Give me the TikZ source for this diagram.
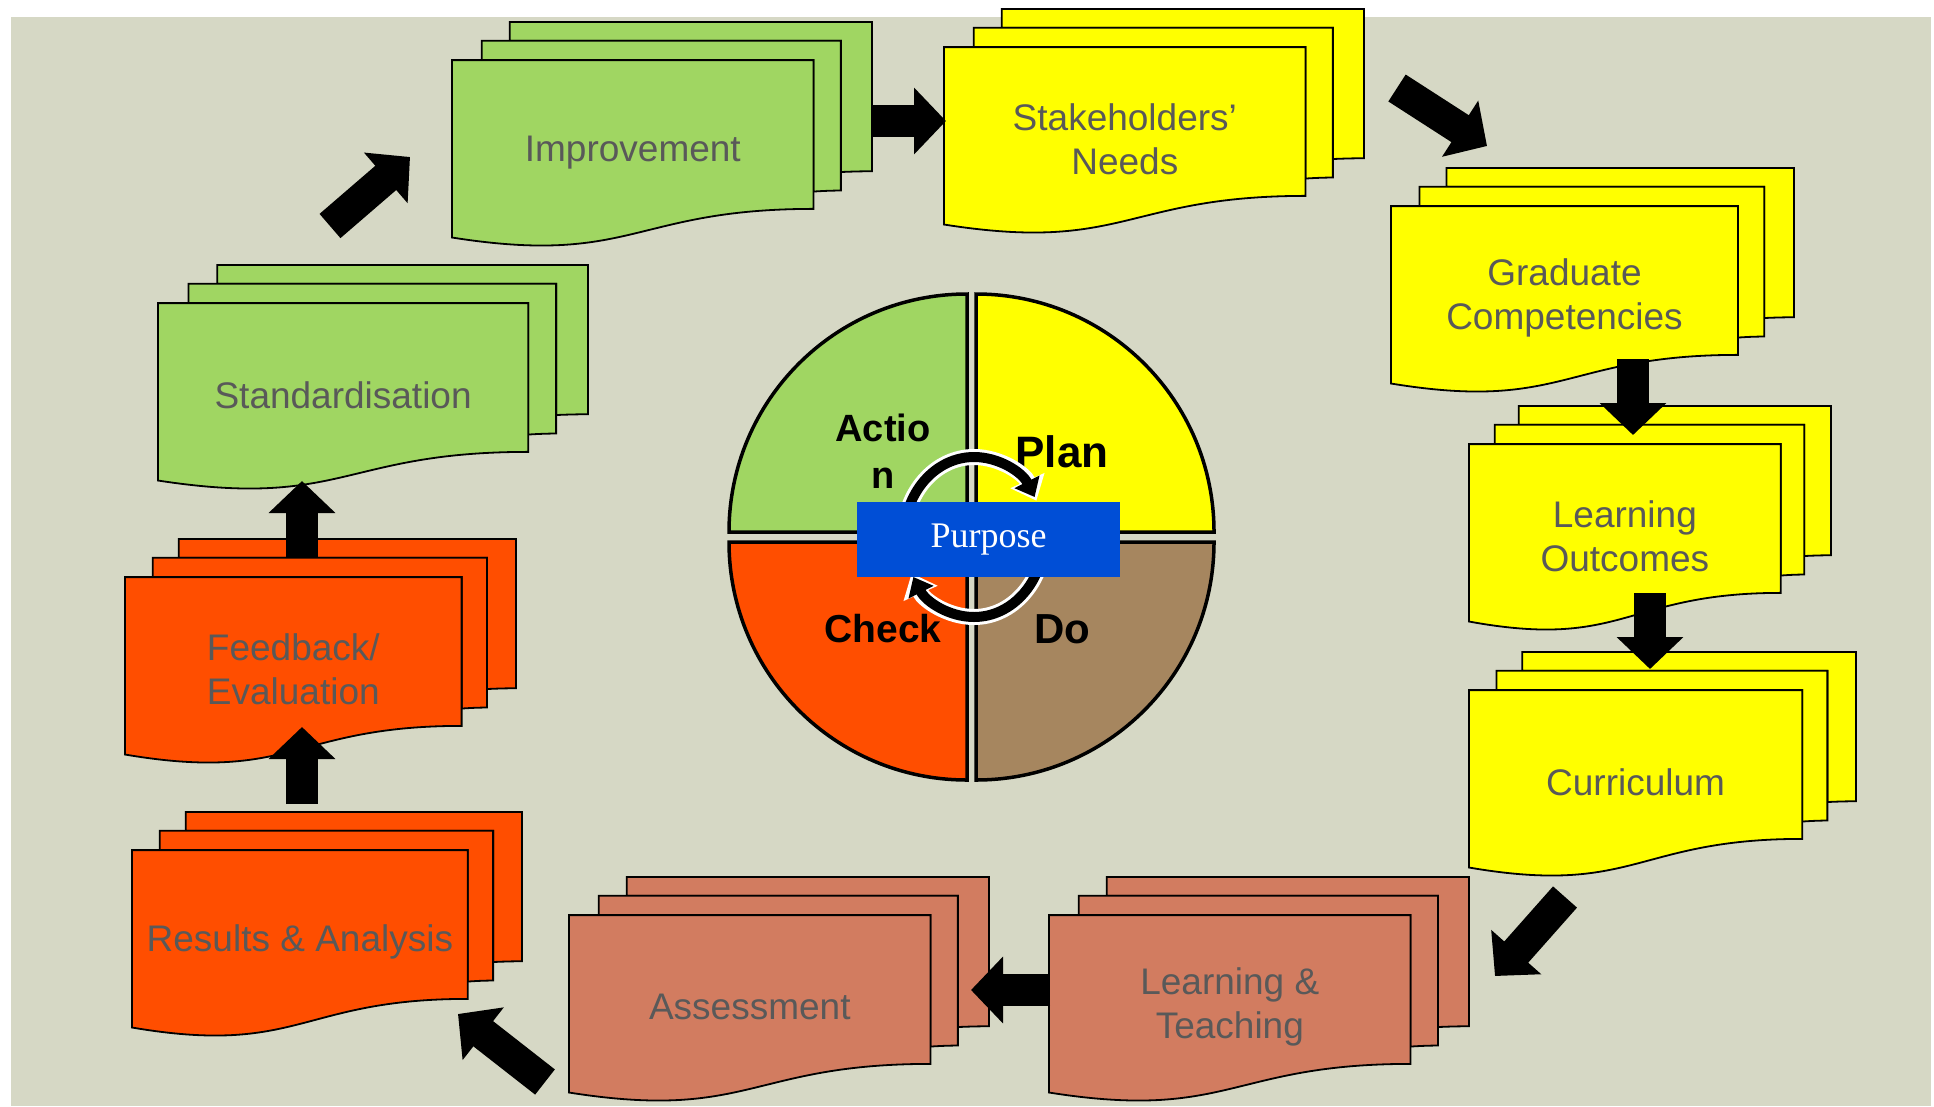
\documentclass[tikz,border=0pt]{standalone}
\usepackage{fontspec}
\setmainfont{Liberation Sans}
\newfontfamily\purposefont{Liberation Serif}
\usetikzlibrary{arrows.meta}
\definecolor{bgcol}{RGB}{214,216,197}
\definecolor{docgreen}{RGB}{160,214,98}
\definecolor{docyellow}{RGB}{255,255,0}
\definecolor{docred}{RGB}{255,78,0}
\definecolor{docsalmon}{RGB}{210,124,96}
\definecolor{dobrown}{RGB}{166,134,95}
\definecolor{purposeblue}{RGB}{0,78,214}
\definecolor{doctext}{RGB}{89,89,89}
\tikzset{
    docline/.style={draw=black,line width=1.8pt,line join=miter},
    doctxt/.style={text=doctext,align=center,inner sep=0pt,font=\fontsize{37}{44}\selectfont},
    blockarrow/.style={line width=32pt,-{Triangle[length=32pt,width=65pt]}},
    quarter/.style={draw=black,line width=3.5pt},
    qlabel/.style={align=center,inner sep=0pt},
    purposebox/.style={fill=purposeblue,text=white,minimum width=263pt,minimum height=75pt,
        inner sep=0pt,font=\purposefont\fontsize{36}{40}\selectfont}
}
% three stacked pages, text on the front one
\newcommand{\multidoc}[7]{%
    \begin{scope}[shift={(#2,#3)},x=#4pt,y=-#5pt]
        \draw[docline,fill=#6] (0.1376,0.0840) -- (0.1376,0) -- (1,0) -- (1,0.6663)
            .. controls (0.9630,0.6663) and (0.9259,0.6698) .. (0.9259,0.6698) -- (0.9259,0.0840) -- cycle;
        \draw[docline,fill=#6] (0.0709,0.1701) -- (0.0709,0.0840) -- (0.9259,0.0840) -- (0.9259,0.7524)
            .. controls (0.8934,0.7524) and (0.8609,0.7570) .. (0.8609,0.7570) -- (0.8609,0.1701) -- cycle;
        \draw[docline,fill=#6] (0,0.9621) .. controls (0.4305,1.0899) and (0.4305,0.8343) .. (0.8609,0.8343)
            -- (0.8609,0.1701) -- (0,0.1701) -- cycle;
        \node[doctxt] (#1) at (0.4305,0.582) {#7};
    \end{scope}}

\begin{document}
\begin{tikzpicture}[x=1pt,y=-1pt]
    \useasboundingbox (0,0) rectangle (1934,1106);
    \fill[white] (0,0) rectangle (1934,1106);
    \fill[bgcol] (11,17) rectangle (1931,1106);

    % documents
    \multidoc{improve}{452}{22}{420}{224}{docgreen}{Improvement}
    \multidoc{needs}{944}{9}{420}{224}{docyellow}{Stakeholders’\\Needs}
    \multidoc{gradcomp}{1391}{168}{403}{224}{docyellow}{Graduate\\Competencies}
    \multidoc{outcomes}{1469}{406}{362}{224}{docyellow}{Learning\\Outcomes}
    \multidoc{curric}{1469}{652}{387}{224}{docyellow}{Curriculum}
    \multidoc{teaching}{1049}{877}{420}{224}{docsalmon}{Learning \&\\Teaching}
    \multidoc{assess}{569}{877}{420}{224}{docsalmon}{Assessment}
    \multidoc{results}{132}{812}{390}{224}{docred}{Results \& Analysis}
    \multidoc{feedback}{125}{539}{391}{224}{docred}{Feedback/\\Evaluation}
    \multidoc{standard}{158}{265}{430}{224}{docgreen}{Standardisation}

    % block arrows
    \coordinate (a1) at (330,226);   \coordinate (b1) at (410,157);
    \coordinate (a2) at (872,121);   \coordinate (b2) at (946,121);
    \coordinate (a3) at (1397,88);   \coordinate (b3) at (1487,146);
    \coordinate (a4) at (1633,359);  \coordinate (b4) at (1633,435);
    \coordinate (a5) at (1650,593);  \coordinate (b5) at (1650,669);
    \coordinate (a6) at (1565,897);  \coordinate (b6) at (1495,976);
    \coordinate (a7) at (1050,990);  \coordinate (b7) at (971,990);
    \coordinate (a8) at (545,1082);  \coordinate (b8) at (458,1014);
    \coordinate (a9) at (302,804);   \coordinate (b9) at (302,727);
    \coordinate (a10) at (302,557);  \coordinate (b10) at (302,481);
    \path[blockarrow]
        (a1) edge (b1)
        (a2) edge (b2)
        (a3) edge (b3)
        (a4) edge (b4)
        (a5) edge (b5)
        (a6) edge (b6)
        (a7) edge (b7)
        (a8) edge (b8)
        (a9) edge (b9)
        (a10) edge (b10);

    % PDCA wheel
    \filldraw[quarter,fill=docgreen] (967,532) -- ++(-238,0) arc[start angle=180,end angle=90,radius=238pt] -- cycle;
    \filldraw[quarter,fill=docyellow] (976,532) -- ++(0,-238) arc[start angle=90,end angle=0,radius=238pt] -- cycle;
    \filldraw[quarter,fill=docred] (967,542) -- ++(-238,0) arc[start angle=180,end angle=270,radius=238pt] -- cycle;
    \filldraw[quarter,fill=dobrown] (976,542) -- ++(238,0) arc[start angle=0,end angle=-90,radius=238pt] -- cycle;

    \node[qlabel,font=\bfseries\fontsize{38}{47}\selectfont] (act) at (883,451) {Actio\\n};
    \node[qlabel,anchor=base,font=\bfseries\fontsize{44}{50}\selectfont] (plan) at (1062,467) {Plan};
    \node[qlabel,anchor=base,font=\bfseries\fontsize{39}{47}\selectfont] (check) at (883,642) {Check};
    \node[qlabel,anchor=base,font=\bfseries\fontsize{42}{47}\selectfont] (do) at (1062,643) {Do};

    \coordinate (cyc) at (974,537);
    \draw[white,line width=16pt,-{Triangle[length=22pt,width=36pt]}]
        ([shift={(180:70pt and 80pt)}]cyc) arc[start angle=180,end angle=27,x radius=70pt,y radius=80pt];
    \draw[black,line width=10pt,-{Triangle[length=17pt,width=27pt]}]
        ([shift={(180:70pt and 80pt)}]cyc) arc[start angle=180,end angle=30,x radius=70pt,y radius=80pt];
    \draw[white,line width=16pt,-{Triangle[length=22pt,width=36pt]}]
        ([shift={(0:70pt and 80pt)}]cyc) arc[start angle=0,end angle=-153,x radius=70pt,y radius=80pt];
    \draw[black,line width=10pt,-{Triangle[length=17pt,width=27pt]}]
        ([shift={(0:70pt and 80pt)}]cyc) arc[start angle=0,end angle=-150,x radius=70pt,y radius=80pt];

    \node[purposebox] (purpose) at (988.5,539.5) {Purpose};
\end{tikzpicture}
\end{document}
